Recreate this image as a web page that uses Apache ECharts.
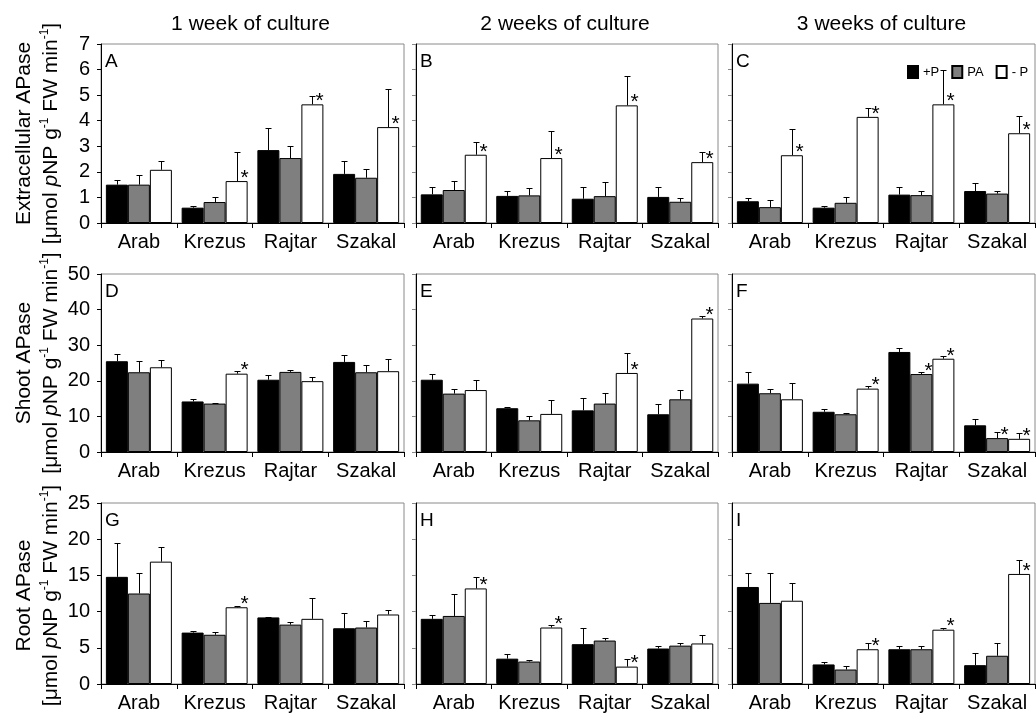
<!DOCTYPE html>
<html>
<head>
<meta charset="utf-8">
<script src="https://cdn.jsdelivr.net/npm/echarts@6/dist/echarts.min.js"></script>
<style>
  html, body { margin: 0; padding: 0; background: #fff; }
  #chart { width: 1036px; height: 713px; }
</style>
</head>
<body>
<div id="chart"></div>
<script>
const cultivars = ['Arab', 'Krezus', 'Rajtar', 'Szakal'];
const treatments = ['+P', 'PA', '- P'];
const columnTitles = ['1 week of culture', '2 weeks of culture', '3 weeks of culture'];
const rowNames = ['Extracellular APase', 'Shoot APase', 'Root APase'];
const yMax = [7, 50, 25];
const yStep = [1, 10, 5];

// rows of each array: +P, PA, -P ; columns: Arab, Krezus, Rajtar, Szakal
// stars: [cultivar index, treatment index]
const A_mean = [[1.50, 0.60, 2.85, 1.92], [1.50, 0.82, 2.54, 1.77], [2.08, 1.64, 4.64, 3.75]];
const A_sd   = [[0.19, 0.05, 0.87, 0.49], [0.39, 0.19, 0.48, 0.34], [0.36, 1.13, 0.34, 1.48]];
const A_star = [[1, 2], [2, 2], [3, 2]];

const B_mean = [[1.12, 1.06, 0.95, 1.02], [1.29, 1.08, 1.05, 0.83], [2.67, 2.54, 4.60, 2.38]];
const B_sd   = [[0.30, 0.21, 0.44, 0.37], [0.35, 0.30, 0.57, 0.16], [0.50, 1.07, 1.13, 0.39]];
const B_star = [[0, 2], [1, 2], [2, 2], [3, 2]];

const C_mean = [[0.85, 0.60, 1.11, 1.25], [0.62, 0.79, 1.09, 1.15], [2.65, 4.15, 4.64, 3.51]];
const C_sd   = [[0.12, 0.06, 0.28, 0.31], [0.26, 0.21, 0.18, 0.12], [1.01, 0.33, 1.35, 0.68]];
const C_star = [[0, 2], [1, 2], [2, 2], [3, 2]];

const D_mean = [[25.5, 14.2, 20.3, 25.3], [22.4, 13.6, 22.5, 22.4], [23.8, 22.0, 19.9, 22.7]];
const D_sd   = [[2.1, 0.6, 1.3, 2.0], [3.1, 0.3, 0.5, 2.0], [2.0, 0.7, 1.3, 3.4]];
const D_star = [[1, 2]];

const E_mean = [[20.3, 12.3, 11.7, 10.6], [16.4, 8.9, 13.6, 14.8], [17.4, 10.7, 22.2, 37.5]];
const E_sd   = [[1.5, 0.4, 3.4, 3.0], [1.4, 1.2, 2.9, 2.6], [2.8, 4.0, 5.7, 0.8]];
const E_star = [[2, 2], [3, 2]];

const F_mean = [[19.2, 11.3, 28.1, 7.5], [16.5, 10.6, 21.9, 3.9], [14.8, 17.8, 26.2, 3.7]];
const F_sd   = [[3.3, 0.7, 1.2, 1.8], [1.3, 0.4, 0.7, 1.7], [4.6, 0.6, 0.9, 1.5]];
const F_star = [[1, 2], [2, 1], [2, 2], [3, 1], [3, 2]];

const G_mean = [[14.8, 7.1, 9.2, 7.7], [12.5, 6.8, 8.2, 7.8], [16.9, 10.6, 9.0, 9.6]];
const G_sd   = [[4.7, 0.2, 0.1, 2.1], [2.8, 0.4, 0.4, 0.9], [2.0, 0.2, 2.9, 0.6]];
const G_star = [[1, 2]];

const H_mean = [[9.0, 3.5, 5.5, 4.9], [9.4, 3.1, 6.0, 5.3], [13.2, 7.8, 2.4, 5.6]];
const H_sd   = [[0.5, 0.6, 2.2, 0.3], [3.1, 0.2, 0.4, 0.4], [1.6, 0.4, 1.1, 1.2]];
const H_star = [[0, 2], [1, 2], [2, 2]];

const I_mean = [[13.4, 2.7, 4.8, 2.6], [11.2, 2.0, 4.8, 3.9], [11.5, 4.8, 7.5, 15.2]];
const I_sd   = [[1.9, 0.4, 0.5, 1.7], [4.2, 0.5, 0.5, 1.7], [2.4, 0.8, 0.2, 1.9]];
const I_star = [[1, 2], [2, 2], [3, 2]];

const panels = [
    { letter: 'A', mean: A_mean, sd: A_sd, star: A_star },
    { letter: 'B', mean: B_mean, sd: B_sd, star: B_star },
    { letter: 'C', mean: C_mean, sd: C_sd, star: C_star },
    { letter: 'D', mean: D_mean, sd: D_sd, star: D_star },
    { letter: 'E', mean: E_mean, sd: E_sd, star: E_star },
    { letter: 'F', mean: F_mean, sd: F_sd, star: F_star },
    { letter: 'G', mean: G_mean, sd: G_sd, star: G_star },
    { letter: 'H', mean: H_mean, sd: H_sd, star: H_star },
    { letter: 'I', mean: I_mean, sd: I_sd, star: I_star }
];

const FONT = '"Liberation Sans", Arial, Helvetica, sans-serif';
const BAR_W = 22;
const barColors = ['#000000', '#7f7f7f', '#ffffff'];
const colLeft = [101, 416, 732];
const colWidth = [303, 302, 303];
const rowTop = [44, 274, 503];
const rowHeight = [179, 178, 185];

function errorItem(params, api) {
    const c = api.value(0);
    const t = api.value(1);
    const p0 = api.coord([c, api.value(2)]);
    const p1 = api.coord([c, api.value(3)]);
    const x = Math.round(p0[0] + (t - 1) * BAR_W) + 0.5;
    const yTop = Math.round(p1[1]) + 0.5;
    const children = [
        { type: 'line', shape: { x1: x, y1: p0[1], x2: x, y2: yTop }, style: { stroke: '#000', lineWidth: 1 } },
        { type: 'line', shape: { x1: x - 3, y1: yTop, x2: x + 3, y2: yTop }, style: { stroke: '#000', lineWidth: 1 } }
    ];
    if (api.value(4)) {
        children.push({
            type: 'text', x: x + 7, y: p0[1] - 3,
            style: { text: '*', fill: '#000', fontSize: 21, fontFamily: FONT, align: 'center', verticalAlign: 'middle' }
        });
    }
    return { type: 'group', children: children };
}

const grid = [], xAxis = [], yAxis = [], series = [], graphic = [];

panels.forEach(function (p, i) {
    const row = Math.floor(i / 3), col = i % 3;
    grid.push({
        left: colLeft[col], top: rowTop[row], width: colWidth[col], height: rowHeight[row],
        show: true, borderColor: '#8a8a8a', borderWidth: 1, containLabel: false
    });
    xAxis.push({
        type: 'category', gridIndex: i, data: cultivars,
        axisLine: { lineStyle: { color: '#000', width: 1 } },
        axisTick: { show: true, interval: 0, length: 5, lineStyle: { color: '#000' } },
        axisLabel: { interval: 0, fontSize: 20, color: '#000', fontFamily: FONT, margin: 9, hideOverlap: false }
    });
    yAxis.push({
        type: 'value', gridIndex: i, min: 0, max: yMax[row], interval: yStep[row],
        splitLine: { show: false },
        axisLine: { show: true, lineStyle: { color: '#000', width: 1 } },
        axisTick: { show: true, length: 4, lineStyle: { color: col === 0 ? '#000' : '#888' } },
        axisLabel: { show: col === 0, fontSize: 20, color: '#000', fontFamily: FONT, margin: 11 }
    });
    treatments.forEach(function (name, t) {
        series.push({
            name: name, type: 'bar', xAxisIndex: i, yAxisIndex: i,
            data: p.mean[t], barWidth: BAR_W, barGap: '0%',
            itemStyle: { color: barColors[t], borderColor: '#000', borderWidth: 1 },
            silent: true
        });
    });
    const errData = [];
    for (let t = 0; t < 3; t++) {
        for (let c = 0; c < 4; c++) {
            const starred = p.star.some(function (s) { return s[0] === c && s[1] === t; }) ? 1 : 0;
            errData.push([c, t, p.mean[t][c], p.mean[t][c] + p.sd[t][c], starred]);
        }
    }
    series.push({
        type: 'custom', xAxisIndex: i, yAxisIndex: i, z: 5, silent: true,
        renderItem: errorItem, encode: { x: 0, y: 3 }, data: errData
    });
    graphic.push({
        type: 'text', x: colLeft[col] + 4, y: rowTop[row] + 8,
        style: { text: p.letter, fill: '#000', fontSize: 19, fontFamily: FONT, align: 'left', verticalAlign: 'top' }
    });
});

columnTitles.forEach(function (t, col) {
    graphic.push({
        type: 'text', x: colLeft[col] + colWidth[col] / 2 - 2, y: 24,
        style: { text: t, fill: '#000', fontSize: 21, fontFamily: FONT, align: 'center', verticalAlign: 'middle' }
    });
});

const unitRich = {
    it: { fontSize: 21, fontFamily: FONT, fontStyle: 'italic', fill: '#000' },
    sup: { fontSize: 12, fontFamily: FONT, fill: '#000', verticalAlign: 'top', lineHeight: 24 }
};
rowNames.forEach(function (name, row) {
    const cy = rowTop[row] + rowHeight[row] / 2;
    graphic.push({
        type: 'text', x: 24, y: cy, rotation: Math.PI / 2,
        style: { text: name, fill: '#000', fontSize: 21, fontFamily: FONT, align: 'center', verticalAlign: 'middle' }
    });
    graphic.push({
        type: 'text', x: 51, y: cy, rotation: Math.PI / 2,
        style: {
            text: '[μmol {it|p}NP g{sup|-1} FW min{sup|-1}]',
            rich: unitRich, fill: '#000', fontSize: 21, fontFamily: FONT, lineHeight: 24,
            align: 'center', verticalAlign: 'middle'
        }
    });
});

const chart = echarts.init(document.getElementById('chart'), null, { renderer: 'canvas' });
chart.setOption({
    animation: false,
    backgroundColor: '#fff',
    legend: {
        data: treatments, left: 902, top: 60, icon: 'rect',
        itemWidth: 10, itemHeight: 12, itemGap: 12,
        textStyle: { fontSize: 13, color: '#000', fontFamily: FONT }
    },
    grid: grid,
    xAxis: xAxis,
    yAxis: yAxis,
    series: series,
    graphic: graphic
});
</script>
</body>
</html>
